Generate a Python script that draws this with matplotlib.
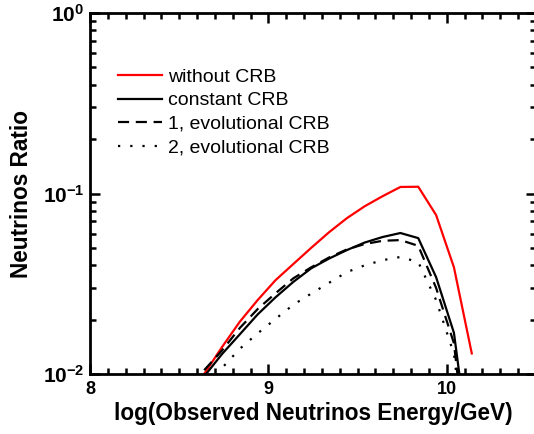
import numpy as np
import matplotlib
matplotlib.use('Agg')
import matplotlib.pyplot as plt
from matplotlib.ticker import FixedLocator, MultipleLocator, LogLocator, FuncFormatter, NullFormatter

plt.rcParams['font.family'] = ['Liberation Sans', 'DejaVu Sans']
plt.rcParams['mathtext.fontset'] = 'custom'
plt.rcParams['mathtext.rm'] = 'Liberation Sans'
plt.rcParams['mathtext.bf'] = 'Liberation Sans:bold'

# log10 of observed neutrino energy (GeV)
log_E = [8.64, 8.74, 8.84, 8.94, 9.04, 9.14, 9.24, 9.34, 9.44, 9.54,
         9.64, 9.74, 9.84, 9.94, 10.04, 10.14]

# neutrino ratio for each case
without_crb = [0.0100, 0.0141, 0.0195, 0.0257, 0.0331, 0.0407, 0.0500, 0.0610,
               0.0730, 0.0850, 0.0966, 0.1087, 0.1090, 0.0760, 0.0390, 0.0130]
constant_crb = [0.0097, 0.0129, 0.0166, 0.0214, 0.0266, 0.0324, 0.0385, 0.0436,
                0.0486, 0.0535, 0.0574, 0.0604, 0.0566, 0.0344, 0.0169, 0.0030]
evol1_crb = [0.0105, 0.0135, 0.0180, 0.0229, 0.0280, 0.0339, 0.0390, 0.0442,
             0.0490, 0.0525, 0.0547, 0.0552, 0.0513, 0.0300, 0.0148, 0.0020]
evol2_crb = [0.0075, 0.0108, 0.0138, 0.0168, 0.0202, 0.0242, 0.0279, 0.0320,
             0.0367, 0.0400, 0.0427, 0.0445, 0.0417, 0.0257, 0.0129, 0.0020]

fig = plt.figure(figsize=(5.34, 4.34), dpi=100)
ax = fig.add_axes([90/534, 60/434, 446/534, 361/434])

ax.plot(log_E, without_crb, color='#ff0000', lw=1.6, label='without CRB')
ax.plot(log_E, constant_crb, color='black', lw=1.6, label='constant CRB')
ax.plot(log_E, evol1_crb, color='black', lw=1.6, linestyle=(0, (5, 3)),
        label='1, evolutional CRB')
ax.plot(log_E, evol2_crb, color='black', lw=1.6, linestyle=(0, (1, 4.5)),
        label='2, evolutional CRB')

ax.set_yscale('log')
ax.set_xlim(8, 10.5)
ax.set_ylim(1e-2, 1)

ax.xaxis.set_major_locator(FixedLocator([8, 9, 10]))
ax.xaxis.set_minor_locator(MultipleLocator(0.1))
ax.yaxis.set_major_locator(LogLocator(base=10))
ax.yaxis.set_minor_locator(LogLocator(base=10, subs=np.arange(2, 10)))
ax.yaxis.set_minor_formatter(NullFormatter())
ax.yaxis.set_major_formatter(FuncFormatter(lambda v, p: r'$\mathbf{10^{%d}}$' % round(np.log10(v))))

ax.tick_params(which='both', direction='in', top=True, right=True, width=1.8)
ax.tick_params(which='major', length=7, pad=5)
ax.tick_params(axis='x', which='major', labelsize=13)
ax.tick_params(axis='y', which='major', labelsize=15, pad=4)
ax.tick_params(which='minor', length=4)
for lab in ax.get_xticklabels():
    lab.set_fontweight('bold')
for s in ax.spines.values():
    s.set_linewidth(2)

ax.set_xlabel('log(Observed Neutrinos Energy/GeV)', fontsize=16.3, fontweight='bold', labelpad=3)
ax.set_ylabel('Neutrinos Ratio', fontsize=16.3, fontweight='bold', labelpad=7)

ax.legend(loc='upper left', bbox_to_anchor=(0.023, 0.895), frameon=False, fontsize=14,
          handlelength=2.3, handletextpad=0.26, labelspacing=0.3)

fig.savefig('out.png', dpi=100)
